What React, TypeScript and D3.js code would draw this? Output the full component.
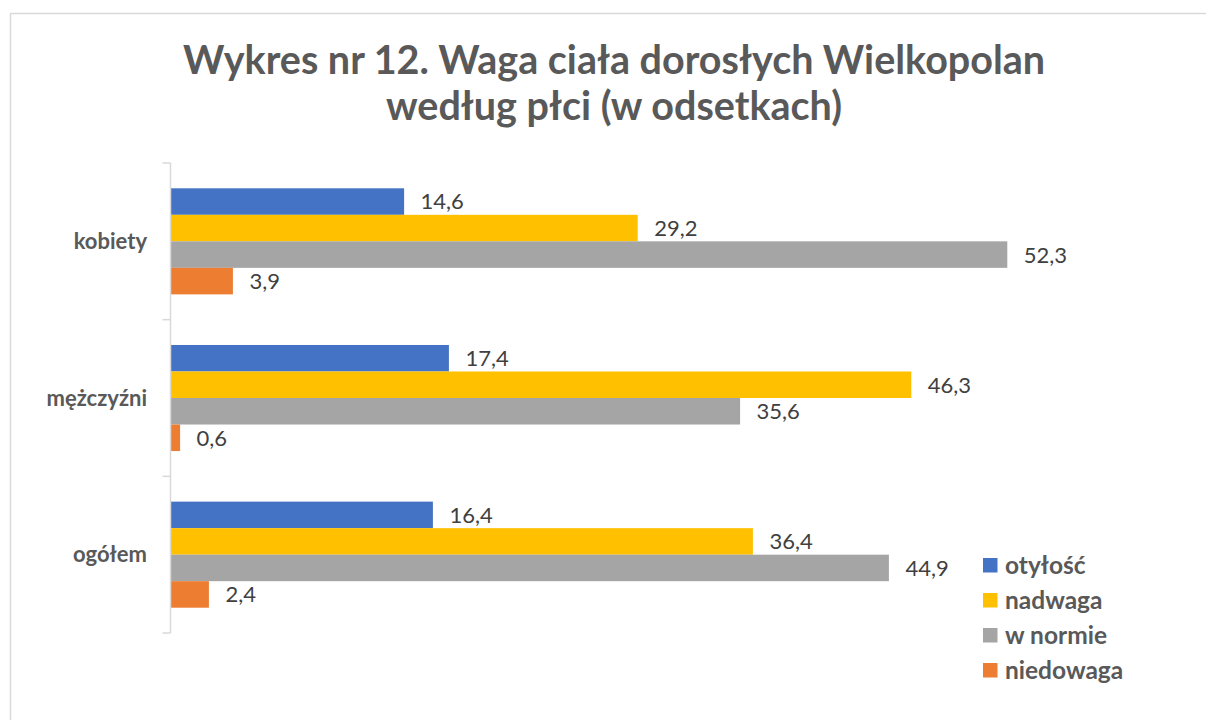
import React, { useEffect } from "react";
import * as d3 from "d3";

const WIDTH = 1206;
const HEIGHT = 720;

// data
const categories = ["kobiety", "mężczyźni", "ogółem"];
const seriesNames = ["otyłość", "nadwaga", "w normie", "niedowaga"];
const otylosc = [14.6, 17.4, 16.4];
const nadwaga = [29.2, 46.3, 36.4];
const wNormie = [52.3, 35.6, 44.9];
const niedowaga = [3.9, 0.6, 2.4];
const colors = ["#4472C4", "#FFC000", "#A5A5A5", "#ED7D31"];
const titleLines = [
  "Wykres nr 12. Waga ciała dorosłych Wielkopolan",
  "według płci (w odsetkach)",
];

const FONT = "Lato, 'Open Sans', sans-serif";

const fmt = (v: number) => v.toFixed(1).replace(".", ",");

export default function App() {
  useEffect(() => {
    document.body.style.margin = "0";
  }, []);

  const margin = { top: 163, left: 170.5, bottom: 633 };
  const values = [otylosc, nadwaga, wNormie, niedowaga];

  const x = d3.scaleLinear().domain([0, 60]).range([margin.left, margin.left + 960]);
  const y = d3
    .scaleBand<string>()
    .domain(categories)
    .range([margin.top, margin.bottom])
    .paddingInner(0.323)
    .paddingOuter(0.1615);
  const ySeries = d3
    .scaleBand<string>()
    .domain(seriesNames)
    .range([0, y.bandwidth()]);

  // tick positions on category boundaries
  const ticks = categories.map((c) => y(c)! - (y.step() - y.bandwidth()) / 2);
  ticks.push(margin.bottom);

  return (
    <svg width={WIDTH} height={HEIGHT} style={{ display: "block" }}>
      <rect x={0} y={0} width={WIDTH} height={HEIGHT} fill="#fff" />
      <rect
        x={10.5}
        y={13.5}
        width={1400}
        height={900}
        fill="#fff"
        stroke="#d9d9d9"
        strokeWidth={1.5}
      />

      {/* title */}
      <g fontFamily={FONT} fontWeight="bold" fill="#595959" textAnchor="middle">
        {titleLines.map((t, i) => (
          <text key={i} x={614} y={74 + i * 46} fontSize={39.5}>
            {t}
          </text>
        ))}
      </g>

      {/* bars */}
      {categories.map((c, ci) => (
        <g key={c} transform={`translate(0,${y(c)})`}>
          {seriesNames.map((s, si) => {
            const v = values[si][ci];
            const by = ySeries(s)!;
            return (
              <g key={s}>
                <rect
                  x={x(0)}
                  y={by}
                  width={x(v) - x(0)}
                  height={ySeries.bandwidth()}
                  fill={colors[si]}
                />
                <text
                  x={x(v) + 16.5}
                  y={by + ySeries.bandwidth() / 2}
                  dy="0.36em"
                  fontFamily={FONT}
                  fontSize={22}
                  fill="#404040"
                >
                  {fmt(v)}
                </text>
              </g>
            );
          })}
        </g>
      ))}

      {/* category axis */}
      <g stroke="#d9d9d9" strokeWidth={1.5}>
        <line x1={margin.left} x2={margin.left} y1={margin.top} y2={margin.bottom} />
        {ticks.map((t, i) => (
          <line key={i} x1={margin.left - 8} x2={margin.left} y1={t} y2={t} />
        ))}
      </g>
      <g fontFamily={FONT} fontWeight="bold" fontSize={22} fill="#595959" textAnchor="end">
        {categories.map((c) => (
          <text key={c} x={147} y={y(c)! + y.bandwidth() / 2} dy="0.35em">
            {c}
          </text>
        ))}
      </g>

      {/* legend */}
      <g fontFamily={FONT} fontWeight="bold" fontSize={24.5} fill="#595959">
        {seriesNames.map((s, i) => (
          <g key={s} transform={`translate(983,${558 + i * 35})`}>
            <rect width={14.5} height={14.5} fill={colors[i]} />
            <text x={22} y={7.5} dy="0.36em">
              {s}
            </text>
          </g>
        ))}
      </g>
    </svg>
  );
}
